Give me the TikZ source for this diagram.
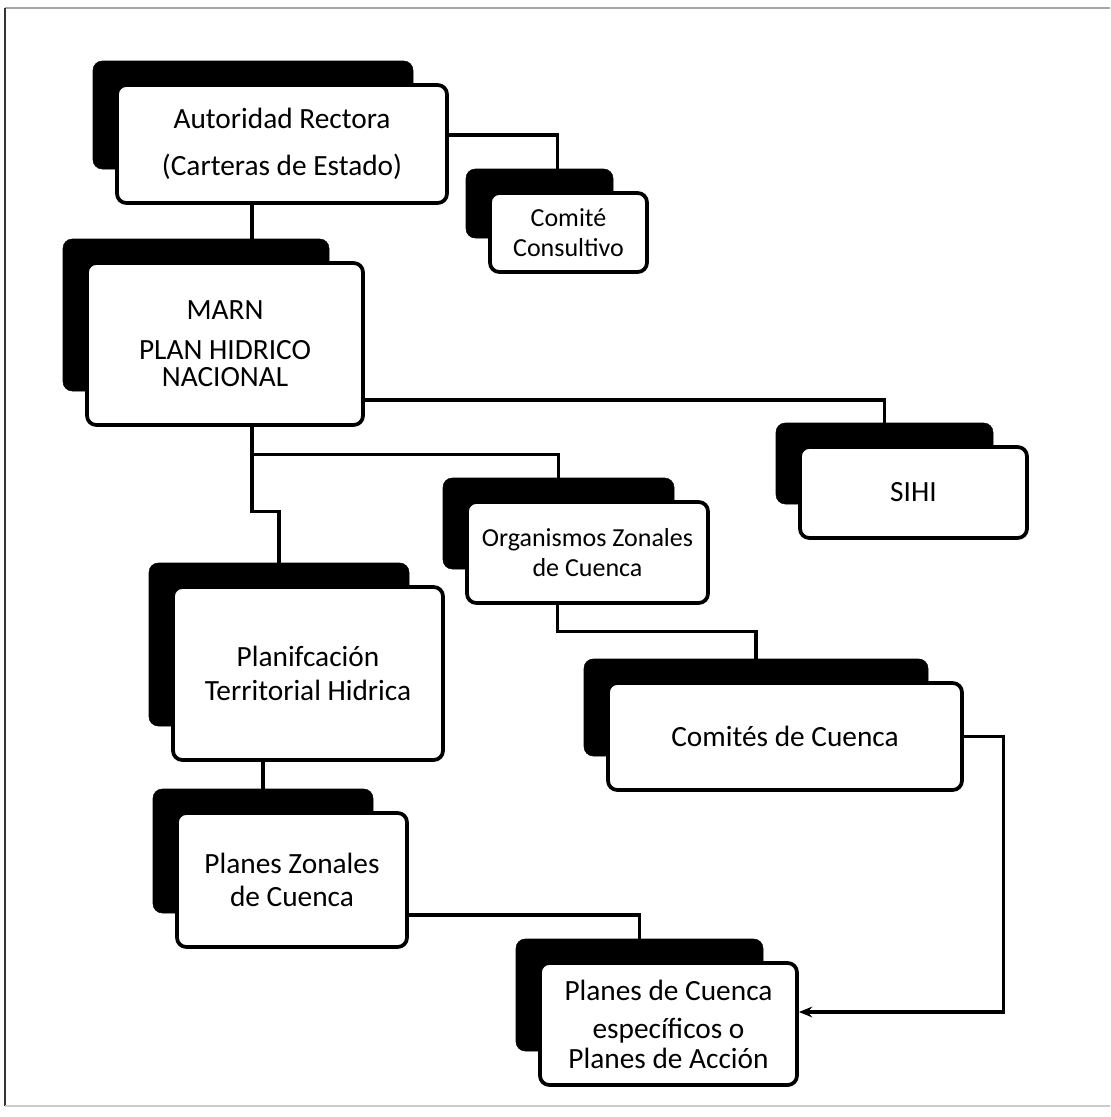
\documentclass[tikz,border=0pt]{standalone}
\usepackage{fontspec}
\setmainfont{Carlito}
\usepackage{tikz}
\usetikzlibrary{calc,arrows.meta}

\begin{document}
\begin{tikzpicture}[x=0.75pt,y=0.75pt,yscale=-1,xscale=1,
    backbox/.style={fill=black, draw=black, rounded corners=7pt, inner sep=0pt},
    frontbox/.style={fill=white, draw=black, line width=2.8pt, rounded corners=7pt, align=center, inner sep=0pt, font=\fontsize{22}{25}\selectfont},
    smallbox/.style={frontbox, font=\fontsize{19.5}{22.5}\selectfont},
    conn/.style={line width=2.4pt}]
    \useasboundingbox (0,0) rectangle (1110,1117);

    %Frame of the page
    \draw [gray!70, line width=1pt] (5,8) -- (1110,8) ;
    \draw [black!80, line width=0.8pt] (5,8) -- (5,1106) ;
    \draw [gray!40, line width=0.8pt] (5,1106) -- (1110,1106) ;

    %Shape: Rounded Rect
    \node [backbox, minimum width=240pt, minimum height=81pt] (autB) at (253,115) {};
    % Text Node
    \node [frontbox, minimum width=247.5pt, minimum height=88.5pt] (aut) at ($(autB)+(29,29)$) {Autoridad Rectora\\[10pt](Carteras de Estado)};

    %Shape: Rounded Rect
    \node [backbox, minimum width=110.25pt, minimum height=51.75pt] (comB) at (539.5,203.5) {};
    % Text Node
    \node [smallbox, minimum width=117.75pt, minimum height=59.25pt] (com) at ($(comB)+(29,29)$) {Comité\\Consultivo};

    %Shape: Rounded Rect
    \node [backbox, minimum width=199.5pt, minimum height=114pt] (marnB) at (196,315) {};
    % Text Node
    \node [frontbox, minimum width=207pt, minimum height=121.5pt] (marn) at ($(marnB)+(29,29)$) {MARN\\[5pt]PLAN HIDRICO\\[-5pt]NACIONAL};

    %Shape: Rounded Rect
    \node [backbox, minimum width=162.75pt, minimum height=60.75pt] (sihiB) at (884.5,463.5) {};
    % Text Node
    \node [frontbox, minimum width=170.25pt, minimum height=68.25pt] (sihi) at ($(sihiB)+(29,29)$) {SIHI};

    %Shape: Rounded Rect
    \node [backbox, minimum width=173.25pt, minimum height=68.25pt] (orgB) at (558.5,523.5) {};
    % Text Node
    \node [smallbox, minimum width=180.75pt, minimum height=75.75pt] (org) at ($(orgB)+(29,29)$) {Organismos Zonales\\de Cuenca};

    %Shape: Rounded Rect
    \node [backbox, minimum width=195pt, minimum height=122.25pt] (planB) at (279,644.5) {};
    % Text Node
    \node [frontbox, minimum width=202.5pt, minimum height=129.75pt] (plan) at ($(planB)+(29,29)$) {Planifcación\\Territorial Hidrica};

    %Shape: Rounded Rect
    \node [backbox, minimum width=258pt, minimum height=72.75pt] (cdcB) at (756,707.5) {};
    % Text Node
    \node [frontbox, minimum width=265.5pt, minimum height=80.25pt] (cdc) at ($(cdcB)+(29,29)$) {Comités de Cuenca};

    %Shape: Rounded Rect
    \node [backbox, minimum width=165pt, minimum height=93pt] (pzB) at (263,851) {};
    % Text Node
    \node [frontbox, minimum width=172.5pt, minimum height=100.5pt] (pz) at ($(pzB)+(29,29)$) {Planes Zonales\\de Cuenca};

    %Shape: Rounded Rect
    \node [backbox, minimum width=185.25pt, minimum height=84pt] (pcB) at (639.5,995) {};
    % Text Node
    \node [frontbox, minimum width=192.75pt, minimum height=91.5pt] (pc) at ($(pcB)+(29,29)$) {Planes de Cuenca\\[3.5pt]específicos o\\[-2.5pt]Planes de Acción};

    %Straight Lines
    \coordinate (a1) at ($(aut.south)+(-30,0)$);
    \coordinate (m1) at ($(marn.south)+(27,0)$);
    \draw [conn] ($(aut.east)+(0,-9)$) -| ($(comB.north)+(18,0)$) ;
    \draw [conn] (a1) -- (a1 |- marnB.north) ;
    \draw [conn] ($(marn.east)+(0,56)$) -| (sihiB.north) ;
    \draw [conn] (m1) -- ++(0,85) -| (planB.north) ;
    \draw [conn] ($(m1)+(0,28)$) -| (orgB.north) ;
    \draw [conn] ($(org.south)+(-30,0)$) -- ++(0,27) -| (cdcB.north) ;
    \draw [conn] (plan.south -| pzB.north) -- (pzB.north) ;
    \draw [conn] ($(pz.east)+(0,35)$) -| (pcB.north) ;
    \draw [conn, -{Stealth[length=10pt,width=8pt]}] (cdc.east) -- ++(40,0) |- ($(pc.east)+(0,-12)$) ;
\end{tikzpicture}
\end{document}
